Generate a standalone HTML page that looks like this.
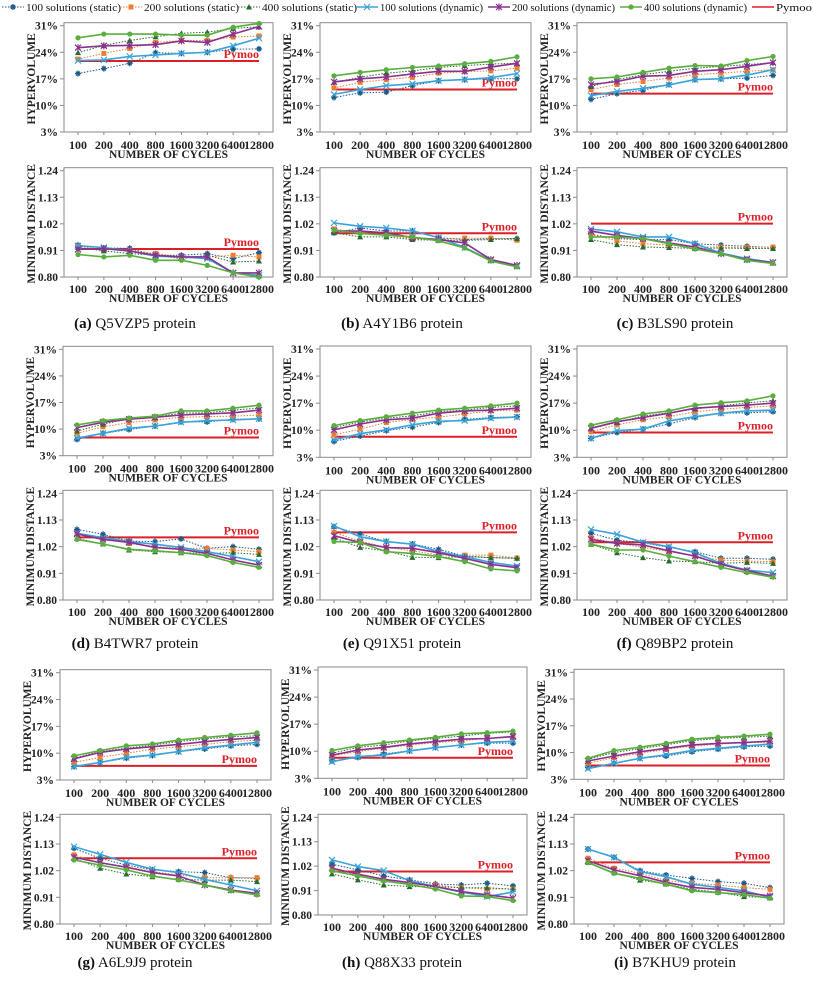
<!DOCTYPE html>
<html><head><meta charset="utf-8"><style>
html,body{margin:0;padding:0;background:#fff;}
svg, svg text{font-family:"Liberation Serif","Times New Roman",serif;}
</style></head><body>
<svg id="chart" width="813" height="994" viewBox="0 0 813 994" xmlns="http://www.w3.org/2000/svg" font-family="Liberation Serif, serif"></svg>
<script>
const cycles = ['100','200','400','800','1600','3200','6400','12800'];
const hvTicks = [3,10,17,24,31];
const mdTicks = [0.80,0.91,1.02,1.13,1.24];
const seriesLabels = ['100 solutions (static)','200 solutions (static)','400 solutions (static)','100 solutions (dynamic)','200 solutions (dynamic)','400 solutions (dynamic)'];
const captionIds = ['(a)','(b)','(c)','(d)','(e)','(f)','(g)','(h)','(i)'];
const captionNames = ['Q5VZP5 protein','A4Y1B6 protein','B3LS90 protein','B4TWR7 protein','Q91X51 protein','Q89BP2 protein','A6L9J9 protein','Q88X33 protein','B7KHU9 protein'];

// series order: s100, s200, s400, d100, d200, d400
const hvA = [[18.4,19.7,21.1,23.9,23.7,24,24.8,24.9],[22.2,23.7,25,26.6,27.1,27.1,28,28.3],[23.9,25.8,27.1,28.1,29,29.3,30.3,30.7],[21.8,22,22.9,23.3,23.7,24,25.7,27.7],[25.2,25.7,25.8,26,27,26.6,28.8,30.8],[27.8,28.8,28.8,28.8,28.5,28.5,30.6,31.6]];
const mdA = [[0.932,0.92,0.919,0.89,0.89,0.897,0.876,0.901],[0.927,0.914,0.911,0.897,0.883,0.883,0.89,0.883],[0.922,0.908,0.897,0.89,0.876,0.89,0.862,0.866],[0.929,0.922,0.908,0.886,0.883,0.876,0.817,0.807],[0.914,0.918,0.907,0.89,0.883,0.883,0.817,0.817],[0.893,0.883,0.89,0.869,0.869,0.848,0.817,0.80]];
const hvB = [[12.1,13.3,13.5,15.2,16.5,16.8,17,17],[14.6,16.1,16.8,17.4,18.5,18.9,19.1,19.8],[16.1,17.4,18.5,19.1,20,20.5,20.9,21.1],[12.9,14.2,15.2,15.7,16.5,16.8,17.3,18.4],[16.2,17,17.5,18.3,19,19,20.1,21.1],[17.8,18.7,19.4,20,20.4,21,21.6,22.8]];
const mdB = [[0.983,1.003,0.99,0.991,0.963,0.955,0.959,0.959],[0.999,0.983,0.973,0.959,0.955,0.961,0.961,0.952],[0.983,0.966,0.966,0.955,0.952,0.952,0.955,0.959],[1.024,1.01,1.003,0.991,0.963,0.922,0.869,0.844],[0.991,0.99,0.983,0.963,0.955,0.941,0.872,0.848],[0.994,0.98,0.973,0.966,0.95,0.92,0.866,0.842]];
const hvC = [[11.6,13.1,14,15.5,16.8,17,17.2,17.9],[14.2,15.5,16.3,17.2,18.1,18.5,19,19.4],[15,16.8,18.1,19,19.8,20.3,20.7,21.3],[12.6,13.7,14.5,15.4,16.8,17,18,19.4],[15.5,16.3,17.7,17.9,19,19.4,20.3,21.3],[17,17.5,18.7,19.8,20.5,20.4,21.8,22.9]];
const mdC = [[0.977,0.959,0.955,0.955,0.938,0.932,0.927,0.922],[0.976,0.95,0.938,0.932,0.924,0.924,0.922,0.924],[0.955,0.934,0.924,0.922,0.918,0.92,0.918,0.918],[0.998,0.987,0.966,0.966,0.938,0.899,0.876,0.86],[0.99,0.972,0.959,0.941,0.924,0.897,0.872,0.86],[0.966,0.966,0.959,0.938,0.916,0.897,0.869,0.856]];
const hvD = [[7.3,8.9,9.9,10.8,11.9,11.9,12.6,12.7],[8.9,10.6,11.7,12.4,13.1,13.3,13.4,13.7],[9.5,11.3,12.7,13.1,14.2,14.3,15,15.5],[7.6,8.9,10.2,10.8,11.8,12.2,12.4,12.7],[10.4,11.8,12.6,13.1,13.7,14,14.3,15],[11.1,12.2,12.9,13.4,14.8,14.8,15.5,16.3]];
const mdD = [[1.091,1.071,1.043,1.041,1.052,1.013,1.02,1.009],[1.072,1.054,1.033,1.02,1.013,1.013,1.006,0.999],[1.054,1.031,1.006,0.999,0.995,0.992,0.995,0.988],[1.075,1.057,1.041,1.03,1.017,0.999,0.979,0.958],[1.072,1.05,1.038,1.017,1.009,0.992,0.965,0.944],[1.05,1.031,1.009,1.003,0.995,0.983,0.955,0.935]];
const hvE = [[7.1,8.5,9.9,10.8,12,12.8,13.3,13.5],[8.8,10.3,12,12.8,13.4,14.2,15,15.2],[10.7,12.1,13.1,13.7,14.8,15.2,15.9,16.3],[7.5,9.1,10.1,11.4,12.3,12.5,13.1,13.4],[10.1,11.6,12.7,13.1,14.4,15,15.2,15.7],[11.2,12.5,13.5,14.4,15.2,15.7,16.3,17]];
const mdE = [[1.102,1.072,1.041,1.031,1.009,0.981,0.975,0.972],[1.079,1.043,1.017,1.003,0.985,0.985,0.985,0.973],[1.057,1.017,1.002,0.976,0.975,0.979,0.975,0.972],[1.105,1.061,1.041,1.03,0.999,0.979,0.955,0.94],[1.065,1.037,1.016,1.013,0.995,0.972,0.947,0.933],[1.041,1.037,0.999,0.992,0.979,0.958,0.928,0.92]];
const hvF = [[7.9,9.4,10.3,11.6,13.3,14.4,14.5,14.8],[9.6,11.4,12.7,13.5,14.8,15.4,15.9,16.3],[10.5,12,13.7,14.5,15.5,16.3,17.1,17.6],[7.9,9.9,10.3,12.4,13.5,14.4,15,15.2],[10.5,12.2,13.3,14.4,15.7,16.1,16.5,17],[11.3,12.7,14.2,15,16.5,17.1,17.6,18.9]];
const mdF = [[1.075,1.047,1.036,1.017,0.999,0.972,0.972,0.968],[1.057,1.033,1.017,0.999,0.981,0.965,0.961,0.958],[1.03,0.995,0.975,0.961,0.958,0.951,0.955,0.951],[1.091,1.071,1.038,1.02,0.995,0.951,0.923,0.913],[1.05,1.033,1.027,1.003,0.981,0.947,0.921,0.899],[1.03,1.006,1.006,0.981,0.958,0.935,0.913,0.894]];
const hvG = [[6.5,7.6,8.7,9.4,10.4,11.1,11.9,12.3],[7.6,8.9,10,11,11.7,12.3,13,13.4],[8.7,10.4,11.3,12.1,13,13.7,14.3,14.5],[6.5,7.6,8.9,9.5,10.4,11.4,12.1,12.8],[8.5,10.2,11.1,11.7,12.3,13,13.6,14.1],[9.3,10.7,11.9,12.4,13.4,14.1,14.7,15.3]];
const mdG = [[1.112,1.071,1.043,1.023,1.016,1.012,0.991,0.988],[1.085,1.05,1.037,1.016,1.002,0.991,0.991,0.991],[1.071,1.03,1.006,0.995,0.984,0.981,0.981,0.975],[1.119,1.087,1.054,1.026,1.012,0.984,0.961,0.937],[1.075,1.053,1.034,1.012,0.998,0.961,0.94,0.926],[1.064,1.043,1.023,0.998,0.982,0.961,0.937,0.92]];
const hvH = [[7.5,8.4,9.3,10.1,11,11.6,12.1,12.1],[8.8,9.9,10.8,11.6,12.2,12.7,13.3,13.6],[9.5,11,11.6,12.7,13.3,13.9,14.6,15],[7.3,8.6,9,10.1,10.9,11.6,12.3,12.6],[9,10.3,11,11.9,12.5,13.1,13.3,13.8],[10.2,11.4,12.2,12.9,13.6,14.5,14.8,15.2]];
const mdH = [[1.029,1.003,0.976,0.958,0.94,0.935,0.943,0.931],[1.008,0.981,0.958,0.943,0.935,0.923,0.917,0.917],[0.985,0.958,0.935,0.928,0.928,0.923,0.923,0.916],[1.048,1.018,1.0,0.955,0.928,0.903,0.883,0.903],[1.011,0.984,0.961,0.946,0.928,0.906,0.891,0.876],[0.999,0.976,0.953,0.938,0.917,0.886,0.883,0.865]];
const hvI = [[6.1,7.2,8.5,9.1,10.2,10.9,11.5,11.7],[7.2,8.7,9.8,10.8,11.7,12.2,12.6,12.6],[8.2,10,11,12,13.1,13.7,14,14.3],[5.8,7.2,8.5,9.4,10.5,11.1,11.7,12.2],[7.8,9.1,10.2,11.1,12,12.4,12.6,13],[8.5,10.5,11.4,12.4,13.5,14,14.3,14.8]];
const mdI = [[1.109,1.075,1.02,1.002,0.988,0.975,0.968,0.95],[1.071,1.03,1.009,0.979,0.968,0.961,0.95,0.943],[1.054,1.012,0.981,0.965,0.943,0.931,0.913,0.909],[1.109,1.075,1.016,0.995,0.964,0.951,0.937,0.91],[1.061,1.023,0.999,0.972,0.951,0.943,0.929,0.916],[1.053,1.009,0.988,0.964,0.937,0.929,0.922,0.906]];
const hvPymoo = [21.7,14.2,13.1,7.8,8.3,9.4,6.7,8.3,6.6];
const mdPymoo = [0.916,0.981,1.021,1.058,1.079,1.038,1.071,0.996,1.054];

const hvAll = [hvA,hvB,hvC,hvD,hvE,hvF,hvG,hvH,hvI];
const mdAll = [mdA,mdB,mdC,mdD,mdE,mdF,mdG,mdH,mdI];

const geom = [
 {x0:78,x1:259,ht:25.7,hb:132,mt:170.7,mb:277,cx:135,cy:328},
 {x0:334,x1:517,ht:25.7,hb:132,mt:170.7,mb:277,cx:402,cy:328},
 {x0:591,x1:773,ht:25.7,hb:132,mt:170.7,mb:277,cx:675,cy:328},
 {x0:77,x1:259,ht:349.3,hb:455.7,mt:493.3,mb:600,cx:135,cy:648},
 {x0:334,x1:517,ht:349,hb:457.3,mt:493.3,mb:600,cx:402,cy:648},
 {x0:591,x1:773,ht:349,hb:457.3,mt:493.3,mb:600,cx:675,cy:648},
 {x0:74,x1:257,ht:672.7,hb:780,mt:817.3,mb:924,cx:135,cy:967},
 {x0:332,x1:513,ht:670,hb:778.3,mt:817.3,mb:915,cx:402,cy:967},
 {x0:588,x1:770,ht:672.3,hb:779.3,mt:817.3,mb:924,cx:675,cy:967}
];
const colors = ['#1f5a85','#ed7d31','#2a6b2f','#3aa3d9','#8a3190','#5aae3e'];
const markers = ['star','square','tri','x','asterisk','circle'];
const PY = '#dc2027';
const FF = 'Liberation Serif, Times New Roman, serif';

const NS='http://www.w3.org/2000/svg';
const svg=document.getElementById('chart');
function mk(tag, attrs, parent){const e=document.createElementNS(NS,tag);for(const k in attrs)e.setAttribute(k,attrs[k]);if(tag==='text')e.setAttribute('font-family',FF);(parent||svg).appendChild(e);return e;}

function marker(g,type,x,y,c){
  let m;
  if(type==='square'){m=mk('rect',{x:x-2.5,y:y-2.5,width:5,height:5,fill:c},g);}
  else if(type==='tri'){m=mk('polygon',{points:`${x},${y-3} ${x-3},${y+2.5} ${x+3},${y+2.5}`,fill:c},g);}
  else if(type==='circle'){m=mk('circle',{cx:x,cy:y,r:2.6,fill:c},g);}
  else if(type==='x'){m=mk('path',{d:`M${x-3},${y-3}L${x+3},${y+3}M${x-3},${y+3}L${x+3},${y-3}`,stroke:c,'stroke-width':1.2},g);}
  else if(type==='asterisk'){m=mk('path',{d:`M${x-3},${y-3}L${x+3},${y+3}M${x-3},${y+3}L${x+3},${y-3}M${x},${y-3.5}L${x},${y+3.5}`,stroke:c,'stroke-width':1.2},g);}
  else {m=mk('path',{d:`M${x-3},${y}L${x+3},${y}M${x},${y-3}L${x},${y+3}M${x-2},${y-2}L${x+2},${y+2}M${x-2},${y+2}L${x+2},${y-2}`,stroke:c,'stroke-width':1.3},g);}
  
  
}

function drawSub(pi, kind){
  const G=geom[pi];
  const step=(G.x1-G.x0)/(cycles.length-1);
  const xs=i=>G.x0+i*step;
  const top = kind==='hv'?G.ht:G.mt, bot = kind==='hv'?G.hb:G.mb;
  const ticks = kind==='hv'?hvTicks:mdTicks;
  const vmin=ticks[0], vmax=ticks[ticks.length-1];
  const ys=v=>bot-(v-vmin)/(vmax-vmin)*(bot-top);
  const data = kind==='hv'?hvAll[pi]:mdAll[pi];
  const py = kind==='hv'?hvPymoo[pi]:mdPymoo[pi];
  const g=mk('g',{});
  
  
  const L=G.x0-14,R=G.x1+14;
  const box=mk('rect',{x:L,y:top-3,width:R-L,height:bot-top+3,fill:'none',stroke:'#8a8a8a','stroke-width':1},g);
  
  
  ticks.forEach(t=>{
    const y=ys(t);
    mk('line',{x1:L-4,x2:L,y1:y,y2:y,stroke:'#8a8a8a','stroke-width':1},g);
    const tx=mk('text',{x:L-6,y:y+4,'text-anchor':'end','font-size':11.5,'font-weight':'bold',fill:'#222'},g);
    tx.textContent = kind==='hv'? t+'%' : t.toFixed(2);
    
    
  });
  cycles.forEach((c,i)=>{
    const x=xs(i);
    mk('line',{x1:x,x2:x,y1:bot,y2:bot+3,stroke:'#8a8a8a','stroke-width':1},g);
    const tx=mk('text',{x:x,y:bot+(kind==='hv'?17:16),'text-anchor':'middle','font-size':12,'font-weight':'bold',fill:'#222'},g);
    tx.textContent=c;
    
    
  });
  const xt=mk('text',{x:(L+R)/2,y:bot+(kind==='hv'?26:25),'text-anchor':'middle','font-size':11.5,'font-weight':'bold',fill:'#222'},g);
  xt.textContent='NUMBER OF CYCLES';
  
  
  const ycx=L-33, ycy=(top+bot)/2;
  const yt=mk('text',{x:ycx,y:ycy,'text-anchor':'middle','font-size':11.5,'font-weight':'bold',fill:'#222',transform:`rotate(-90 ${ycx} ${ycy})`,dy:4},g);
  yt.textContent= kind==='hv'?'HYPERVOLUME':'MINIMUM DISTANCE';
  
  
  const pl=mk('line',{x1:G.x0,x2:G.x1,y1:ys(py),y2:ys(py),stroke:PY,'stroke-width':2},g);
  
  
  const plb=mk('text',{x:G.x1,y:ys(py)-3,'text-anchor':'end','font-size':12,'font-weight':'bold',fill:PY},g);
  plb.textContent='Pymoo';
  
  
  data.forEach((ser,si)=>{
    const pts=ser.map((v,i)=>xs(i).toFixed(1)+','+ys(v).toFixed(1)).join(' ');
    const attrs={points:pts,fill:'none',stroke:colors[si],'stroke-width':si<3?1:1.6};
    if(si<3) attrs['stroke-dasharray']='1.5,1.5';
    const pl2=mk('polyline',attrs,g);
    
    
    ser.forEach((v,i)=>marker(g,markers[si],xs(i),ys(v),colors[si]));
  });
}

for(let p=0;p<9;p++){
  drawSub(p,'hv');
  drawSub(p,'md');
  const G=geom[p];
  const cap=mk('text',{x:G.cx,y:G.cy,'text-anchor':'middle','font-size':15,fill:'#111'});
  
  
  const b=mk('tspan',{'font-weight':'bold'},cap); b.textContent=captionIds[p];
  const n=mk('tspan',{},cap); n.textContent=' '+captionNames[p];
}

const legX=[2,120,238,356,488,620,752];
const legW=[95,95,95,103,103,103,36];
const lg=mk('g',{});


for(let i=0;i<7;i++){
  const e=mk('g',{},lg);
  
  
  const x=legX[i], y=7;
  const c=i<6?colors[i]:PY;
  const la={x1:x,x2:x+22,y1:y,y2:y,stroke:c,'stroke-width':i<3?1:1.6};
  if(i<3) la['stroke-dasharray']='1.5,1.5';
  mk('line',la,e);
  if(i<6) marker(e,markers[i],x+11,y,c);
  const t=mk('text',{x:x+24,y:y+4,'font-size':11,fill:'#111',textLength:legW[i],lengthAdjust:'spacingAndGlyphs'},e);
  t.textContent=i<6?seriesLabels[i]:'Pymoo';
}
</script>
</body></html>
